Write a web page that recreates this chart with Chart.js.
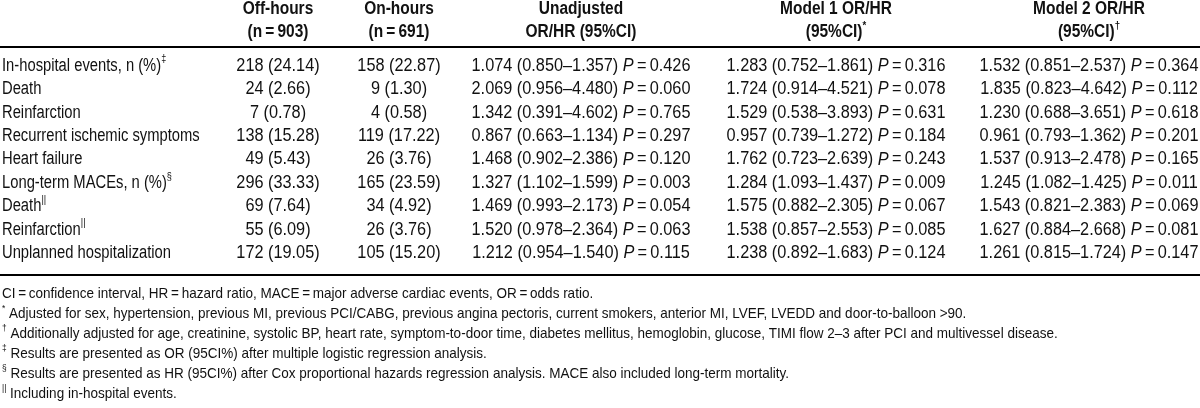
<!DOCTYPE html>
<html>
<head>
<meta charset="utf-8">
<script src="https://cdn.jsdelivr.net/npm/chart.js@4.4.1/dist/chart.umd.min.js"></script>
<style>
    html, body { margin: 0; padding: 0; background: #fff; }
    #wrap { width: 1200px; height: 408px; position: relative; }
</style>
</head>
<body>
<div id="wrap"><canvas id="chart-table"></canvas></div>
<script>
// Rows of the table
const rowLabels = [
    'In-hospital events, n (%)', 'Death', 'Reinfarction', 'Recurrent ischemic symptoms', 'Heart failure',
    'Long-term MACEs, n (%)', 'Death', 'Reinfarction', 'Unplanned hospitalization'
];
const rowMarks = ['‡', '', '', '', '', '§', '||', '||', ''];

// Off-hours / on-hours counts and percentages
const offN = [218, 24, 7, 138, 49, 296, 69, 55, 172];
const offPct = [24.14, 2.66, 0.78, 15.28, 5.43, 33.33, 7.64, 6.09, 19.05];
const onN = [158, 9, 4, 119, 26, 165, 34, 26, 105];
const onPct = [22.87, 1.30, 0.58, 17.22, 3.76, 23.59, 4.92, 3.76, 15.20];

// Unadjusted
const unOR = [1.074, 2.069, 1.342, 0.867, 1.468, 1.327, 1.469, 1.520, 1.212];
const unLo = [0.850, 0.956, 0.391, 0.663, 0.902, 1.102, 0.993, 0.978, 0.954];
const unHi = [1.357, 4.480, 4.602, 1.134, 2.386, 1.599, 2.173, 2.364, 1.540];
const unP = [0.426, 0.060, 0.765, 0.297, 0.120, 0.003, 0.054, 0.063, 0.115];

// Model 1
const m1OR = [1.283, 1.724, 1.529, 0.957, 1.762, 1.284, 1.575, 1.538, 1.238];
const m1Lo = [0.752, 0.914, 0.538, 0.739, 0.723, 1.093, 0.882, 0.857, 0.892];
const m1Hi = [1.861, 4.521, 3.893, 1.272, 2.639, 1.437, 2.305, 2.553, 1.683];
const m1P = [0.316, 0.078, 0.631, 0.184, 0.243, 0.009, 0.067, 0.085, 0.124];

// Model 2
const m2OR = [1.532, 1.835, 1.230, 0.961, 1.537, 1.245, 1.543, 1.627, 1.261];
const m2Lo = [0.851, 0.823, 0.688, 0.793, 0.913, 1.082, 0.821, 0.884, 0.815];
const m2Hi = [2.537, 4.642, 3.651, 1.362, 2.478, 1.425, 2.383, 2.668, 1.724];
const m2P = [0.364, 0.112, 0.618, 0.201, 0.165, 0.011, 0.069, 0.081, 0.147];

// Column headers (two lines each) and their marks
const headLine1 = ['Off-hours', 'On-hours', 'Unadjusted', 'Model 1 OR/HR', 'Model 2 OR/HR'];
const headLine2 = ['(n\u2009=\u2009903)', '(n\u2009=\u2009691)', 'OR/HR (95%CI)', '(95%CI)', '(95%CI)'];
const headMarks = ['', '', '', '*', '†'];

const footMarks = ['', '*', '†', '‡', '§', '||'];
const footTexts = [
    'CI\u2009=\u2009confidence interval, HR\u2009=\u2009hazard ratio, MACE\u2009=\u2009major adverse cardiac events, OR\u2009=\u2009odds ratio.',
    'Adjusted for sex, hypertension, previous MI, previous PCI/CABG, previous angina pectoris, current smokers, anterior MI, LVEF, LVEDD and door-to-balloon >90.',
    'Additionally adjusted for age, creatinine, systolic BP, heart rate, symptom-to-door time, diabetes mellitus, hemoglobin, glucose, TIMI flow 2–3 after PCI and multivessel disease.',
    'Results are presented as OR (95CI%) after multiple logistic regression analysis.',
    'Results are presented as HR (95CI%) after Cox proportional hazards regression analysis. MACE also included long-term mortality.',
    'Including in-hospital events.'
];

// Layout (x scale runs 0..1200 across the page)
const LABEL_X = 2;
const colCenters = [278, 399, 581, 836, 1089];
const BODY = 18;
const FOOT = 15;
const SX_LABEL = 0.82;   // source uses a condensed face, squeeze horizontally
const SX_NUM = 0.905;
const SX_HEAD = 0.86;
const SX_FOOT = 0.9;
const INK = '#111';

function fontStr(size, bold, italic) {
    return `${italic ? 'italic ' : ''}${bold ? 'bold ' : ''}${size}px "Liberation Sans", Arial, sans-serif`;
}

function drawRich(ctx, segs, x, y, size, bold, align, sx) {
    const widths = segs.map(s => {
        ctx.font = fontStr(s.sup ? size * 0.62 : size, bold, s.it);
        return ctx.measureText(s.t).width * sx;
    });
    const total = widths.reduce((a, b) => a + b, 0);
    let cx = align === 'center' ? x - total / 2 : x;
    segs.forEach((s, i) => {
        ctx.save();
        ctx.translate(cx, s.sup ? y - size * 0.36 : y);
        ctx.scale(sx, 1);
        ctx.font = fontStr(s.sup ? size * 0.62 : size, bold, s.it);
        ctx.fillText(s.t, 0, 0);
        ctx.restore();
        cx += widths[i];
    });
}

function nPct(n, p) {
    return [{ t: `${n} (${p.toFixed(2)})` }];
}

function orCell(or, lo, hi, p) {
    return [
        { t: `${or.toFixed(3)} (${lo.toFixed(3)}–${hi.toFixed(3)}) ` },
        { t: 'P', it: true },
        { t: '\u2009=\u2009' + p.toFixed(3) }
    ];
}

const cellsByCol = [
    rowLabels.map((_, i) => nPct(offN[i], offPct[i])),
    rowLabels.map((_, i) => nPct(onN[i], onPct[i])),
    rowLabels.map((_, i) => orCell(unOR[i], unLo[i], unHi[i], unP[i])),
    rowLabels.map((_, i) => orCell(m1OR[i], m1Lo[i], m1Hi[i], m1P[i])),
    rowLabels.map((_, i) => orCell(m2OR[i], m2Lo[i], m2Hi[i], m2P[i]))
];
const labelCells = rowLabels.map((l, i) => rowMarks[i] ? [{ t: l }, { t: rowMarks[i], sup: true }] : [{ t: l }]);

const datasets = [{
    label: 'labels',
    data: rowLabels.map((_, i) => ({ x: LABEL_X, y: i })),
    cells: labelCells,
    align: 'left',
    sx: SX_LABEL
}].concat(cellsByCol.map((cells, c) => ({
    label: headLine1[c],
    data: rowLabels.map((_, i) => ({ x: colCenters[c], y: i })),
    cells: cells,
    align: 'center',
    sx: SX_NUM
})));
datasets.forEach(d => { d.pointRadius = 0; d.pointHoverRadius = 0; });

const tableText = {
    id: 'tableText',
    afterDatasetsDraw(chart) {
        const ctx = chart.ctx;
        const area = chart.chartArea;
        const xs = chart.scales.x;
        ctx.save();
        ctx.fillStyle = INK;
        ctx.textAlign = 'left';
        ctx.textBaseline = 'middle';

        // body cells, placed by the scales
        chart.data.datasets.forEach((ds, di) => {
            chart.getDatasetMeta(di).data.forEach((pt, i) => {
                drawRich(ctx, ds.cells[i], pt.x, pt.y, BODY, false, ds.align, ds.sx);
            });
        });

        // headers
        headLine1.forEach((h, c) => {
            const x = xs.getPixelForValue(colCenters[c]);
            drawRich(ctx, [{ t: h }], x, area.top - 45, BODY, true, 'center', SX_HEAD);
            const l2 = headMarks[c] ? [{ t: headLine2[c] }, { t: headMarks[c], sup: true }] : [{ t: headLine2[c] }];
            drawRich(ctx, l2, x, area.top - 22, BODY, true, 'center', SX_HEAD);
        });

        // rules
        ctx.fillStyle = '#000';
        ctx.fillRect(0, area.top - 8, chart.width, 2);
        ctx.fillRect(0, area.bottom + 9, chart.width, 2);

        // footnotes
        ctx.fillStyle = INK;
        footTexts.forEach((t, i) => {
            const y = area.bottom + 29 + i * 20;
            const segs = footMarks[i] ? [{ t: footMarks[i], sup: true }, { t: ' ' + t }] : [{ t: t }];
            drawRich(ctx, segs, LABEL_X, y, FOOT, false, 'left', SX_FOOT);
        });
        ctx.restore();
    }
};

new Chart(document.getElementById('chart-table'), {
    type: 'scatter',
    data: { datasets: datasets },
    options: {
        responsive: true,
        maintainAspectRatio: false,
        animation: false,
        events: [],
        layout: { padding: { top: 54, bottom: 143, left: 0, right: 0 } },
        plugins: {
            legend: { display: false },
            tooltip: { enabled: false }
        },
        scales: {
            x: { type: 'linear', min: 0, max: 1200, display: false },
            y: {
                type: 'category',
                labels: rowLabels.map((_, i) => i),
                offset: true,
                display: false
            }
        }
    },
    plugins: [tableText]
});
</script>
</body>
</html>
